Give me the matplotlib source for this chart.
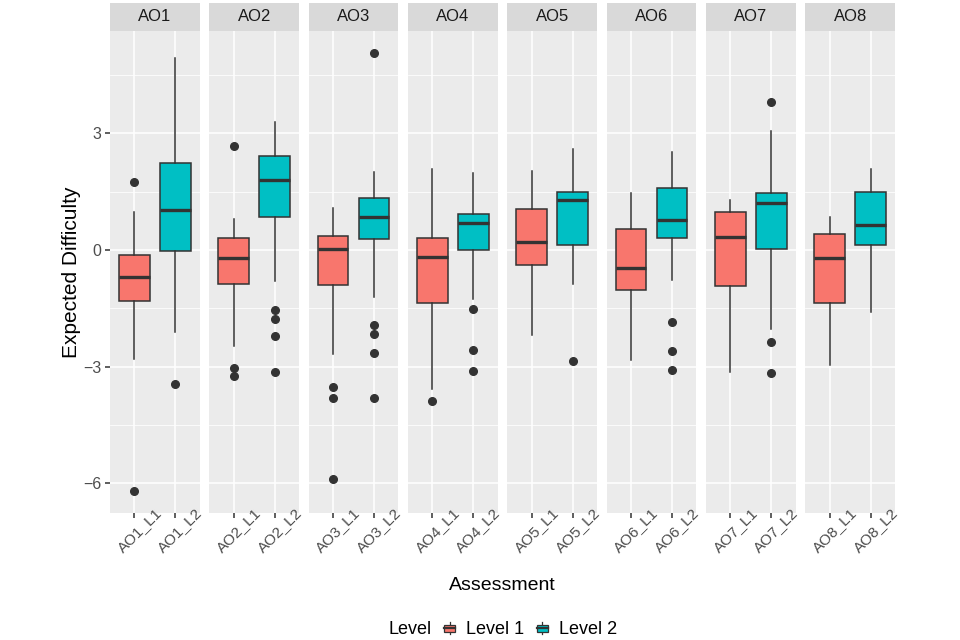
import matplotlib
matplotlib.use('Agg')
import matplotlib.pyplot as plt
from matplotlib.patches import Rectangle, Patch
from matplotlib.lines import Line2D
from matplotlib.legend_handler import HandlerBase
from matplotlib.ticker import FixedLocator

plt.rcParams['font.family'] = ['Liberation Sans', 'DejaVu Sans']

# Facets and levels
assessments = ['AO1', 'AO2', 'AO3', 'AO4', 'AO5', 'AO6', 'AO7', 'AO8']
levels = ['Level 1', 'Level 2']
level_colors = ['#F8766D', '#00BFC4']

# Level 1 box statistics
l1_whislo = [-2.80, -2.48, -2.67, -3.57, -2.19, -2.83, -3.15, -2.96]
l1_q1 = [-1.32, -0.87, -0.91, -1.36, -0.39, -1.04, -0.92, -1.36]
l1_med = [-0.69, -0.21, 0.03, -0.17, 0.20, -0.46, 0.33, -0.21]
l1_q3 = [-0.12, 0.32, 0.35, 0.32, 1.05, 0.55, 0.98, 0.40]
l1_whishi = [0.98, 0.79, 1.07, 2.08, 2.02, 1.46, 1.28, 0.86]
l1_fliers = [[1.76, -6.21], [2.68, -3.03, -3.24], [-3.53, -3.82, -5.90],
             [-3.88], [], [], [], []]

# Level 2 box statistics
l2_whislo = [-2.12, -0.79, -1.22, -1.25, -0.87, -0.77, -2.03, -1.59]
l2_q1 = [-0.02, 0.84, 0.28, 0.00, 0.14, 0.31, 0.03, 0.14]
l2_med = [1.04, 1.80, 0.86, 0.70, 1.29, 0.76, 1.22, 0.65]
l2_q3 = [2.24, 2.41, 1.35, 0.92, 1.48, 1.59, 1.47, 1.50]
l2_whishi = [4.95, 3.30, 2.01, 1.98, 2.61, 2.53, 3.07, 2.09]
l2_fliers = [[-3.46], [-1.54, -1.77, -2.21, -3.14], [5.07, -1.93, -2.17, -2.66, -3.82],
             [-1.53, -2.58, -3.12], [-2.85], [-1.85, -2.61, -3.10],
             [3.80, -2.37, -3.17], []]

y_major = [-6, -3, 0, 3]
y_minor = [-4.5, -1.5, 1.5, 4.5]

dark = '#333333'

# y range like ggplot: data range + 5% each side
all_vals = l1_whislo + l1_whishi + l2_whislo + l2_whishi + sum(l1_fliers, []) + sum(l2_fliers, [])
lo, hi = min(all_vals), max(all_vals)
pad = 0.05 * (hi - lo)

fig, axes = plt.subplots(1, 8, sharey=True, figsize=(9.6, 6.4), dpi=100)
fig.subplots_adjust(left=110 / 960, right=895 / 960, bottom=1 - 513.3 / 640,
                    top=1 - 31 / 640, wspace=9.5 / 89.8)

for i, ax in enumerate(axes):
    stats = [
        dict(whislo=l1_whislo[i], q1=l1_q1[i], med=l1_med[i], q3=l1_q3[i],
             whishi=l1_whishi[i], fliers=l1_fliers[i]),
        dict(whislo=l2_whislo[i], q1=l2_q1[i], med=l2_med[i], q3=l2_q3[i],
             whishi=l2_whishi[i], fliers=l2_fliers[i]),
    ]
    bp = ax.bxp(stats, positions=[1, 2], widths=0.75, patch_artist=True, showcaps=False,
                boxprops=dict(edgecolor=dark, linewidth=1.1),
                whiskerprops=dict(color=dark, linewidth=1.1),
                medianprops=dict(color=dark, linewidth=2.4, solid_capstyle='butt'),
                flierprops=dict(marker='o', markerfacecolor=dark, markeredgecolor=dark,
                                markersize=5.5, linestyle='none'))
    for box, col in zip(bp['boxes'], level_colors):
        box.set_facecolor(col)

    ax.set_facecolor('#EBEBEB')
    for s in ax.spines.values():
        s.set_visible(False)
    ax.set_axisbelow(True)
    ax.set_xlim(0.4, 2.6)
    ax.set_ylim(lo - pad, hi + pad)
    ax.set_xticks([1, 2])
    ax.set_xticklabels([f'{assessments[i]}_L1', f'{assessments[i]}_L2'],
                       rotation=45, ha='center', va='top', rotation_mode='anchor')
    ax.yaxis.set_major_locator(FixedLocator(y_major))
    ax.yaxis.set_minor_locator(FixedLocator(y_minor))
    ax.grid(which='major', color='white', linewidth=1.1)
    ax.grid(which='minor', axis='y', color='white', linewidth=0.55)
    ax.tick_params(which='minor', length=0)
    ax.tick_params(axis='x', length=3.5, width=1.1, color=dark, labelsize=11,
                   labelcolor='#4D4D4D', pad=5)
    ax.tick_params(axis='y', length=3.5 if i == 0 else 0, width=1.1, color=dark,
                   labelsize=11.5, labelcolor='#4D4D4D', pad=2.5)

    # facet strip
    strip_h = 28.3 / 482.3
    ax.add_patch(Rectangle((0, 1), 1, strip_h, transform=ax.transAxes,
                           facecolor='#D9D9D9', edgecolor='none', clip_on=False))
    ax.text(0.5, 1 + strip_h / 2, assessments[i], transform=ax.transAxes,
            ha='center', va='center', fontsize=12, color='#1A1A1A')

axes[0].set_ylabel('Expected Difficulty', fontsize=15, labelpad=1.5)
fig.text(502.5 / 960, 1 - 586 / 640, 'Assessment', ha='center', va='center', fontsize=14)


class BoxKey(HandlerBase):
    def create_artists(self, legend, orig_handle, xdescent, ydescent, width, height,
                       fontsize, trans):
        x0, y0 = -xdescent, -ydescent
        cx = x0 + width / 2
        h = height * 1.1
        yb = y0 + height / 2 - h / 2
        box = Rectangle((x0 + width * 0.1, yb + h * 0.25), width * 0.8, h * 0.5,
                        facecolor=orig_handle.get_facecolor(), edgecolor=dark,
                        linewidth=0.9, transform=trans)
        med = Line2D([x0 + width * 0.1, x0 + width * 0.9], [yb + h * 0.5] * 2,
                     color=dark, linewidth=1.6, transform=trans)
        w1 = Line2D([cx, cx], [yb + h * 0.08, yb + h * 0.25], color=dark,
                    linewidth=0.9, transform=trans)
        w2 = Line2D([cx, cx], [yb + h * 0.75, yb + h * 0.92], color=dark,
                    linewidth=0.9, transform=trans)
        return [w1, w2, box, med]


handles = [Patch(facecolor=c) for c in level_colors]
fig.legend(handles, levels, handler_map={Patch: BoxKey()}, loc='center left',
           bbox_to_anchor=(443 / 960, 1 - 630 / 640), ncol=2, frameon=False,
           fontsize=13, handlelength=0.75, handleheight=0.75, handletextpad=0.55,
           columnspacing=0.6, borderpad=0, borderaxespad=0)
fig.text(388 / 960, 1 - 630 / 640, 'Level', ha='left', va='center', fontsize=13)

fig.savefig('out.png', dpi=100)
